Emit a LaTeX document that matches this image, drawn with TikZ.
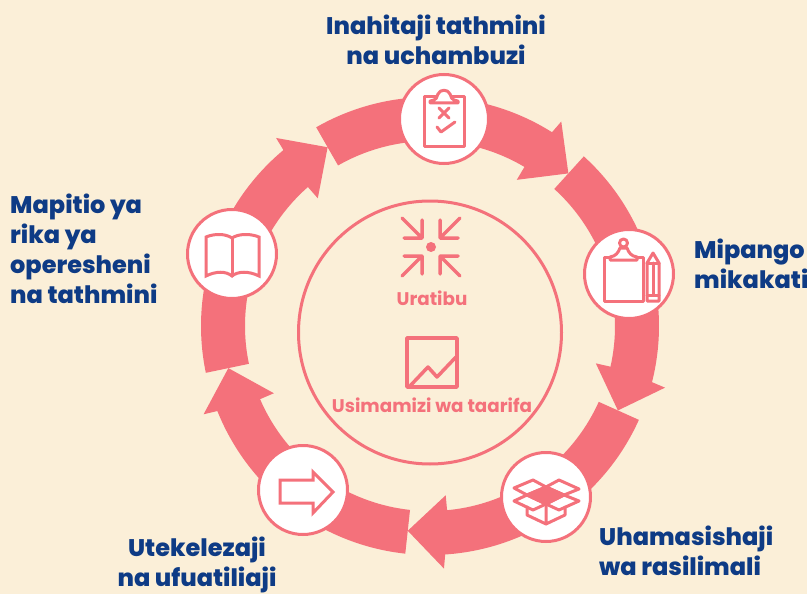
\documentclass[tikz,border=0pt]{standalone}
\usepackage{fontspec}
\setmainfont{Poppins}
\newfontfamily\heavyfont{Poppins ExtraBold}
\usetikzlibrary{positioning}
\definecolor{paper}{HTML}{FBEFD8}
\definecolor{coral}{HTML}{F4717B}
\definecolor{navy}{HTML}{0E3B85}
\tikzset{
  stage/.style={circle, draw=coral, fill=white, line width=3pt, minimum size=89pt, inner sep=0pt},
  label/.style={text=navy, font=\fontsize{24}{30}\selectfont\heavyfont, inner sep=0pt},
  inner/.style={text=coral, font=\fontsize{18.3}{22}\selectfont\bfseries, inner sep=0pt},
  icon/.style={draw=coral, line width=3pt, line join=round, line cap=round}
}
\begin{document}
\begin{tikzpicture}[x=1pt, y=1pt]
  \useasboundingbox (0,0) rectangle (807,-594);
  \fill[paper] (0,0) rectangle (807,-594);
  % Tell it where the ring arrows go
  \begin{scope}[shift={(430,-326)}]
    \foreach \a in {119.8,47.8,-24.2,-96.2,-168.2}
      \fill[coral] (\a:229) arc[start angle=\a, end angle=\a-62, radius=229]
        -- ({\a-62.5}:243) -- ({\a-72}:206) -- ({\a-60.5}:170) -- ({\a-60.5}:185)
        arc[start angle=\a-60.5, end angle=\a, radius=185] -- cycle;
  \end{scope}
  % Tell it where the nodes are
  \node (assess) [stage] at (444,-119) {};
  \node (plan) [stage] at (629,-274) {};
  \node (resource) [stage] at (546,-497) {};
  \node (implement) [stage] at (303,-490) {};
  \node (review) [stage] at (232,-254) {};
  \node (core) [circle, draw=coral, line width=3pt, minimum size=263pt] at (430,-332.5) {};
  \node (assesstext) [label, align=center, above=8pt of assess, xshift=-8pt] {Inahitaji tathmini\\na uchambuzi};
  \node (plantext) [label, align=left, right=19pt of plan, yshift=10pt] {Mipango\\mikakati};
  \node (resourcetext) [label, align=left, anchor=north west] at (599,-526) {Uhamasishaji\\wa rasilimali};
  \node (implementtext) [label, align=center, anchor=north] at (197,-537) {Utekelezaji\\na ufuatiliaji};
  \node (reviewtext) [label, align=left, anchor=north west] at (10,-193.5) {Mapitio ya\\rika ya\\operesheni\\na tathmini};
  \node (coordtext) [inner] at (432,-298) {Uratibu};
  \node (infotext) [inner] at (432,-405) {Usimamizi wa taarifa};
  % Clipboard with marks
  \begin{scope}[shift={(assess.center)}]
    \draw[icon] (-14,22) -- (20,22) -- (20,-28) -- (-20,-28) -- (-20,22) -- cycle;
    \draw[icon, fill=white] (-14,16) -- (14,16) -- (14,18) .. controls (7,19) and (7,22) .. (6,25)
      .. controls (4,30) and (-4,30) .. (-6,25) .. controls (-7,22) and (-7,19) .. (-14,18) -- cycle;
    \draw[icon] (-5,11) -- (5,1) (-5,1) -- (5,11);
    \draw[icon] (-7,-8) -- (-3,-13) -- (11,-3);
  \end{scope}
  % Clipboard with pencil
  \begin{scope}[shift={(plan.center)}]
    \draw[icon] (-25,17) rectangle (14,-27);
    \draw[icon, fill=white] (-19,14) -- (8,14) -- (8,17) .. controls (2,18) and (0,21) .. (-2,26)
      -- (-9,26) .. controls (-11,21) and (-13,18) .. (-19,17) -- cycle;
    \draw[icon, fill=white] (-5.5,31) circle (4);
    \draw[icon] (18,11) -- (24,21) -- (30,11) -- (30,-27) -- (18,-27) -- cycle;
    \draw[icon] (18,11) -- (30,11) (18,-21) -- (30,-21) (24,11) -- (24,-21);
  \end{scope}
  % Open box
  \begin{scope}[shift={(resource.center)}]
    \draw[icon] (-32,9) -- (-13,17) -- (0,10) -- (-19,2) -- cycle;
    \draw[icon] (0,10) -- (13,17) -- (33,8) -- (18,2) -- cycle;
    \draw[icon, fill=coral] (-19,2) -- (0,10) -- (18,2) -- (0,-7) -- cycle;
    \draw[icon] (-19,2) -- (0,-7) -- (-13,-13) -- (-32,-4) -- cycle;
    \draw[icon] (18,2) -- (33,-4) -- (13,-13) -- (0,-7) -- cycle;
    \draw[icon] (-19,-10) -- (-19,-18) -- (0,-27) -- (19,-18) -- (19,-10) (0,-7) -- (0,-27);
  \end{scope}
  % Outline arrow
  \begin{scope}[shift={(implement.center)}]
    \draw[icon, line cap=butt, line join=miter] (-23,10) -- (10,10) -- (10,18) -- (30,-2) -- (10,-23) -- (10,-13) -- (-23,-13) -- cycle;
  \end{scope}
  % Open book
  \begin{scope}[shift={(review.center)}]
    \draw[icon, line join=miter] (-26,17) .. controls (-16,21) and (-6,20) .. (0,16)
      .. controls (6,20) and (17,21) .. (27,17) -- (27,-22)
      .. controls (17,-17) and (6,-17) .. (0,-22)
      .. controls (-6,-17) and (-16,-17) .. (-26,-22) -- cycle;
    \draw[icon] (0,16) -- (0,-22);
  \end{scope}
  % Four arrows to one point
  \begin{scope}[shift={(431,-247)}]
    \fill[coral] (0,0) circle (5);
    \foreach \sx/\sy in {1/1,-1/1,1/-1,-1/-1}
      \draw[icon, line width=3.5pt, xscale=\sx, yscale=\sy] (-29,29) -- (-9,9) (-27,9) -- (-9,9) -- (-9,27);
  \end{scope}
  % Chart
  \draw[icon, line width=3.5pt] (407,-338) rectangle (457,-387);
  \draw[icon, line width=3.5pt] (410,-386) -- (428,-367) -- (437,-377) -- (456,-357);
\end{tikzpicture}
\end{document}
